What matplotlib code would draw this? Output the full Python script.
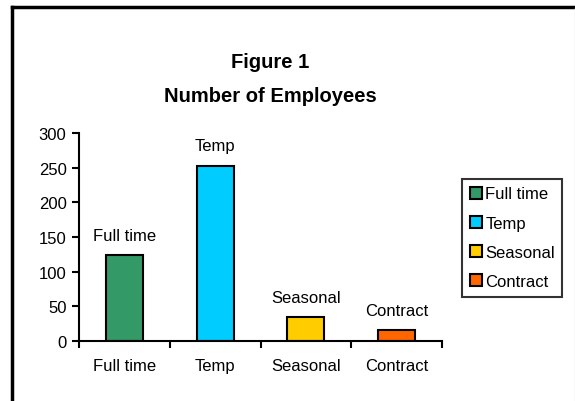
import matplotlib

matplotlib.use("Agg")
import matplotlib.pyplot as plt
from matplotlib.patches import Patch
from matplotlib.lines import Line2D

categories = ["Full time", "Temp", "Seasonal", "Contract"]
employees = [124, 253, 34, 16]
colors = ["#339966", "#00CCFF", "#FFCC00", "#FF6600"]
yticks = [0, 50, 100, 150, 200, 250, 300]

plt.rcParams["font.family"] = ["Liberation Sans", "DejaVu Sans"]
FS = 12

fig = plt.figure(figsize=(5.75, 4.02), dpi=100)
W, H = 575, 402

# axes placed in pixel coords of the reference
x0, x1 = 79, 442
y0, y1 = 342, 134
ax = fig.add_axes([x0 / W, 1 - y0 / H, (x1 - x0) / W, (y0 - y1) / H])

xs = range(len(categories))
ax.bar(xs, employees, width=0.41, color=colors, edgecolor="black", linewidth=1.5)
for x, v, lab in zip(xs, employees, categories):
    ax.annotate(lab, (x, v), xytext=(0, 11), textcoords="offset points",
                ha="center", va="baseline", fontsize=FS)

ax.set_xlim(-0.5, len(categories) - 0.5)
ax.set_ylim(0, 300)
ax.set_yticks(yticks)
ax.set_xticks([i - 0.5 for i in range(len(categories) + 1)], minor=False)
ax.set_xticklabels([])
ax.set_xticks(list(xs), minor=True)
ax.set_xticklabels(categories, minor=True, fontsize=FS)
ax.tick_params(axis="x", which="minor", length=0, pad=12)
ax.tick_params(axis="x", which="major", length=5, width=1.5, direction="out")
ax.tick_params(axis="y", length=5, width=1.5, labelsize=FS, pad=4)
for side in ("top", "right"):
    ax.spines[side].set_visible(False)
for side in ("left", "bottom"):
    ax.spines[side].set_linewidth(1.5)

fig.text(270 / W, 1 - 62 / H, "Figure 1", ha="center", va="center",
         fontsize=14.5, fontweight="bold")
fig.text(270 / W, 1 - 96 / H, "Number of Employees", ha="center", va="center",
         fontsize=14.5, fontweight="bold")

handles = [Patch(facecolor=c, edgecolor="black", linewidth=1.5) for c in colors]
leg = fig.legend(handles, categories, loc="upper left",
                 bbox_to_anchor=(462 / W, 1 - 180 / H), fontsize=FS,
                 frameon=True, fancybox=False, handlelength=0.75,
                 handleheight=0.75, handletextpad=0.2, labelspacing=0.85,
                 borderpad=0.45, borderaxespad=0)
leg.get_frame().set_edgecolor("black")
leg.get_frame().set_linewidth(1.5)

# outer chart border (top and left visible)
fig.add_artist(Line2D([12 / W, 1], [1 - 8 / H, 1 - 8 / H], color="black", lw=2.5))
fig.add_artist(Line2D([12 / W, 12 / W], [0, 1 - 8 / H], color="black", lw=2.5))
fig.add_artist(Line2D([574.5 / W, 574.5 / W], [0, 1 - 9 / H], color="#dddddd", lw=1))

fig.savefig("out.png", dpi=100)
